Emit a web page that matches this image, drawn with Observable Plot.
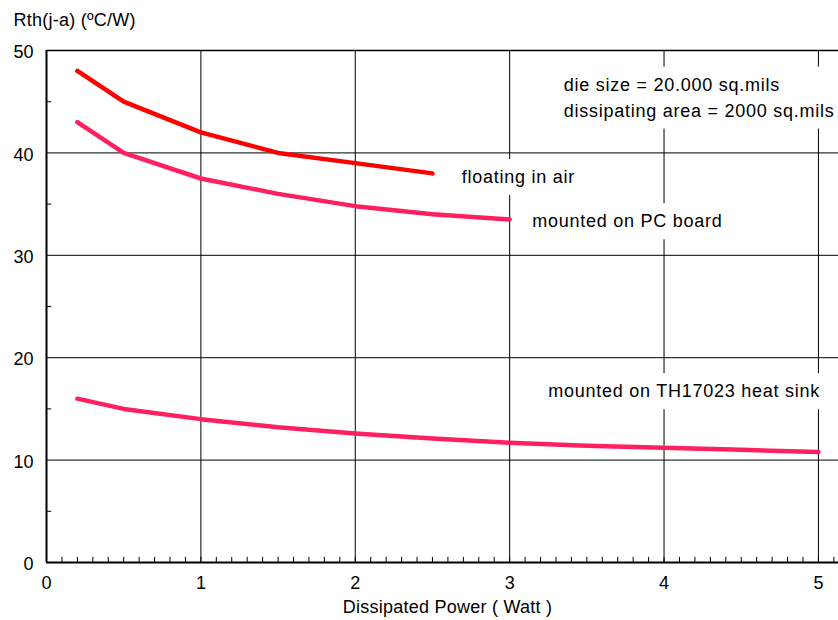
<!DOCTYPE html>
<html>
<head>
<meta charset="utf-8">
<script src="https://cdn.jsdelivr.net/npm/d3@7"></script>
<script src="https://cdn.jsdelivr.net/npm/@observablehq/plot@0.6"></script>
<style>
  html, body { margin: 0; padding: 0; background: #fff; }
  #chart svg { display: block; }
</style>
</head>
<body>
<div id="chart"></div>
<script>
// ---- data ----
const powerAir = [0.2, 0.5, 1, 1.5, 2, 2.5];
const rthAir   = [48, 45, 42, 40, 39, 38];

const powerPCB = [0.2, 0.5, 1, 1.5, 2, 2.5, 3];
const rthPCB   = [43, 40, 37.5, 36, 34.8, 34, 33.5];

const powerSink = [0.2, 0.5, 1, 1.5, 2, 2.5, 3, 3.5, 4, 4.5, 5];
const rthSink   = [16, 15, 14, 13.2, 12.6, 12.1, 11.7, 11.4, 11.2, 11.0, 10.8];

const xTicks = [0, 1, 2, 3, 4, 5];
const yTicks = [0, 10, 20, 30, 40, 50];
const xGrid = [1, 2, 3, 4, 5];
const yGrid = [10, 20, 30, 40];
const xMinor = d3.range(1, 52).map(i => i / 10);
const yMinor = [5, 15, 25, 35, 45];

const labelTexts = [
  "die size = 20.000 sq.mils\ndissipating area = 2000 sq.mils",
  "floating in air",
  "mounted on PC board",
  "mounted on TH17023 heat sink"
];
const labelX = [3.35, 2.69, 3.146, 3.25];
const labelY = [43.55, 37.06, 32.74, 16.14];

const titleText = "Rth(j-a) (ºC/W)";
const xLabelText = "Dissipated Power ( Watt )";

// ---- tables built from the arrays ----
const series = [
  ...powerAir.map((p, i) => ({p, r: rthAir[i], s: "air"})),
  ...powerPCB.map((p, i) => ({p, r: rthPCB[i], s: "pcb"})),
  ...powerSink.map((p, i) => ({p, r: rthSink[i], s: "sink"}))
];
const labels = labelTexts.map((t, i) => ({t, x: labelX[i], y: labelY[i]}));

const chart = Plot.plot({
  width: 838,
  height: 620,
  marginLeft: 46,
  marginRight: 0,
  marginTop: 50,
  marginBottom: 58,
  style: {fontFamily: "'Liberation Sans', Arial, Helvetica, sans-serif", fontSize: "18px", color: "#000", background: "#fff"},
  x: {domain: [0, 5.13]},
  y: {domain: [0, 50]},
  color: {domain: ["air", "pcb", "sink"], range: ["#ff0000", "#ff2060", "#ff2060"]},
  marks: [
    Plot.ruleX(xGrid, {stroke: "#000", strokeWidth: 1}),
    Plot.ruleY(yGrid, {stroke: "#000", strokeWidth: 1}),
    Plot.ruleX(xMinor, {y1: 0, y2: 0.5, stroke: "#000", strokeWidth: 1}),
    Plot.ruleY(yMinor, {x1: 0, x2: 0.034, stroke: "#000", strokeWidth: 1}),
    Plot.ruleY([50], {stroke: "#000", strokeWidth: 1.5}),
    Plot.ruleX([0], {stroke: "#000", strokeWidth: 2}),
    Plot.ruleY([0], {stroke: "#000", strokeWidth: 2}),
    Plot.axisX({ticks: xTicks, tickSize: 0, tickPadding: 14, tickFormat: d => d, label: null}),
    Plot.axisY({ticks: yTicks, tickSize: 0, tickPadding: 13, dy: 2, tickFormat: d => d, label: null}),
    Plot.text(labels, {x: "x", y: "y", text: "t", textAnchor: "start", lineAnchor: "bottom", lineHeight: 1.444, fill: "#000", ariaDescription: "annotations"}),
    Plot.text([titleText], {text: d => d, frameAnchor: "top-left", textAnchor: "start", lineAnchor: "bottom", dx: -33, dy: -25, fill: "#000", ariaDescription: "title"}),
    Plot.text([xLabelText], {text: d => d, frameAnchor: "bottom", lineAnchor: "bottom", dx: 5, dy: 50, fill: "#000", ariaDescription: "xlabel"}),
    Plot.line(series, {x: "p", y: "r", z: "s", stroke: "s", strokeWidth: 4.5, strokeLinecap: "round", strokeLinejoin: "round"})
  ]
});

document.getElementById("chart").appendChild(chart);

const svg = d3.select(chart);
svg.selectAll('g[aria-description="title"] text, g[aria-description="xlabel"] text').style("letter-spacing", "0.25px");
const ann = svg.select('g[aria-description="annotations"]');
ann.selectAll("text").style("letter-spacing", "0.75px");
const pad = 8;
ann.selectAll("text").each(function() {
  const b = this.getBBox();
  const tr = this.getAttribute("transform");
  const rect = document.createElementNS("http://www.w3.org/2000/svg", "rect");
  rect.setAttribute("x", b.x - pad);
  rect.setAttribute("y", b.y - pad);
  rect.setAttribute("width", b.width + 2 * pad);
  rect.setAttribute("height", b.height + 2 * pad);
  rect.setAttribute("fill", "#fff");
  rect.setAttribute("stroke", "none");
  if (tr) rect.setAttribute("transform", tr);
  if (this.getAttribute("x")) rect.setAttribute("x", +this.getAttribute("x") + b.x - +this.getAttribute("x") - pad);
  this.parentNode.insertBefore(rect, this.parentNode.firstChild);
});
</script>
</body>
</html>
